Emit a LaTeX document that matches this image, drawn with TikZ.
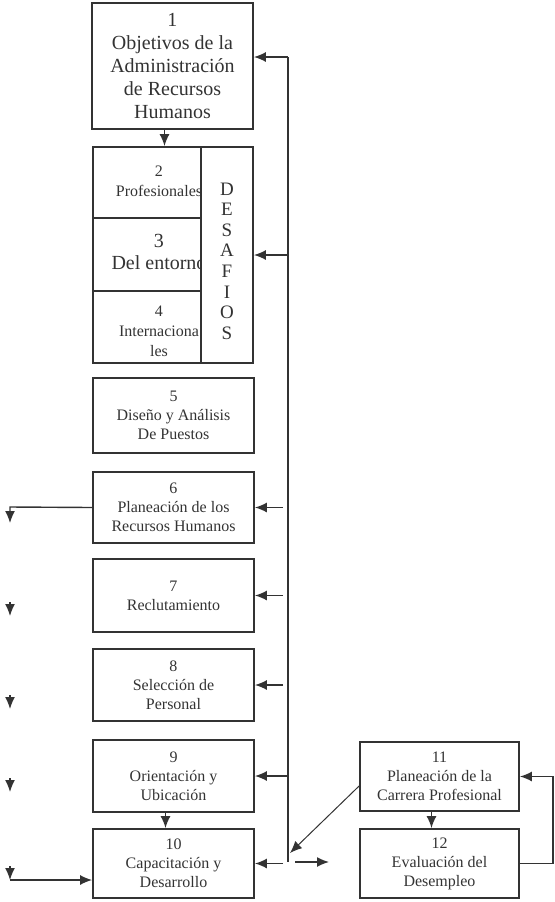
\documentclass[tikz,border=0pt]{standalone}
\usepackage{fontspec}
\setmainfont{Liberation Serif}
\usetikzlibrary{arrows.meta}

\tikzset{
  caja/.style={draw=black!80, line width=0.9pt, minimum width=80.5pt, minimum height=36pt, inner sep=0pt, align=center, text=black!80, font=\fontsize{8}{9.5}\selectfont},
  celda/.style={draw=black!80, line width=0.9pt, minimum width=54pt, inner sep=0pt},
  texto/.style={align=center, text=black!80, inner sep=0pt},
  flecha/.style={draw=black!80, line width=0.7pt, -{Latex[length=6pt,width=5pt]}},
  linea/.style={draw=black!80, line width=0.7pt},
}

\begin{document}
\begin{tikzpicture}[x=0.5pt,y=-0.5pt]
\useasboundingbox (0,0) rectangle (555,902);

% objetivos
\node[caja, minimum height=63pt, font=\fontsize{10}{11.5}\selectfont] (b1) at(172.5,66) {1\\Objetivos de la\\Administración\\de Recursos\\Humanos};

% desafios
\node[celda, minimum height=35.5pt] (c2) at(147,182.5) {};
\node[celda, minimum height=36.5pt] (c3) at(147,254.5) {};
\node[celda, minimum height=36pt] (c4) at(147,327) {};
\node[texto, font=\fontsize{8}{10}\selectfont] (t2) at(159,181) {2\\Profesionales};
\node[texto, font=\fontsize{10}{11}\selectfont] (t3) at(159,252) {3\\Del entorno};
\node[texto, font=\fontsize{8}{10}\selectfont] (t4) at(159,331) {4\\Internaciona\\les};
\node[caja, fill=white, minimum width=26pt, minimum height=108pt] (des) at(227,255) {};
\node[texto, font=\fontsize{9.5}{10.3}\selectfont] (desl) at(227,261) {D\\E\\S\\A\\F\\I\\O\\S};

% procesos
\node[caja, minimum height=37.5pt] (b5) at(173.5,415.5) {5\\Diseño y Análisis\\De Puestos};
\node[caja, minimum height=35.5pt] (b6) at(173.5,507.5) {6\\Planeación de los\\Recursos Humanos};
\node[caja, minimum height=36.5pt] (b7) at(173.5,595.5) {7\\Reclutamiento};
\node[caja] (b8) at(173.5,685) {8\\Selección de\\Personal};
\node[caja] (b9) at(173.5,776) {9\\Orientación y\\Ubicación};
\node[caja, minimum height=34.5pt] (b10) at(173.5,863.5) {10\\Capacitación y\\Desarrollo};
\node[caja, minimum width=79.5pt, minimum height=34.5pt] (b11) at(439.5,776.5) {11\\Planeación de la\\Carrera Profesional};
\node[caja, minimum width=79.5pt, minimum height=34.5pt] (b12) at(439.5,863.5) {12\\Evaluación del\\Desempleo};

% flechas verticales
\draw[flecha] ([xshift=-4pt]b1.south) -- ([xshift=-4pt]b1.south |- c2.north);
\draw[flecha] ([xshift=-4pt]b9.south) -- ([xshift=-4pt]b10.north);
\draw[flecha] ([xshift=-4pt]b11.south) -- ([xshift=-4pt]b12.north);

% retroalimentacion
\coordinate (bt) at(288,57);
\coordinate (bb) at(288,862);
\coordinate (bs) at(283,0);
\draw[linea] (bt) -- (bb);
\draw[flecha] (bt) -- (bt -| b1.east);
\draw[flecha] (des.east -| bt) -- (des.east);
\foreach \b in {b6,b7,b8,b10}
  \draw[flecha] (\b.east -| bs) -- (\b.east);
\draw[flecha] (b9.east -| bt) -- (b9.east);

\coordinate (d1) at(295,862);
\coordinate (d2) at(329,862);
\draw[flecha] (d1) -- (d2);
\coordinate (dg) at(290,853);
\draw[flecha, line width=0.5pt] ([yshift=-4.75pt]b11.west) -- (dg);
\draw[flecha] (b12.east) -- ++(16.5pt,0) |- (b11.east);

% lado izquierdo
\coordinate (l6) at(10,507);
\draw[flecha] (b6.west) -- (l6) -- ++(0,16);
\coordinate (l7) at(10,602);
\coordinate (l8) at(10,695);
\coordinate (l9) at(10,778);
\foreach \l in {l7,l8,l9}
  \draw[flecha] (\l) -- ++(0,14);
\coordinate (l10) at(10,866);
\coordinate (l10b) at(10,880);
\draw[flecha] (l10) -- (l10b);
\draw[flecha] (l10b) -- (l10b -| b10.west);

\end{tikzpicture}
\end{document}
